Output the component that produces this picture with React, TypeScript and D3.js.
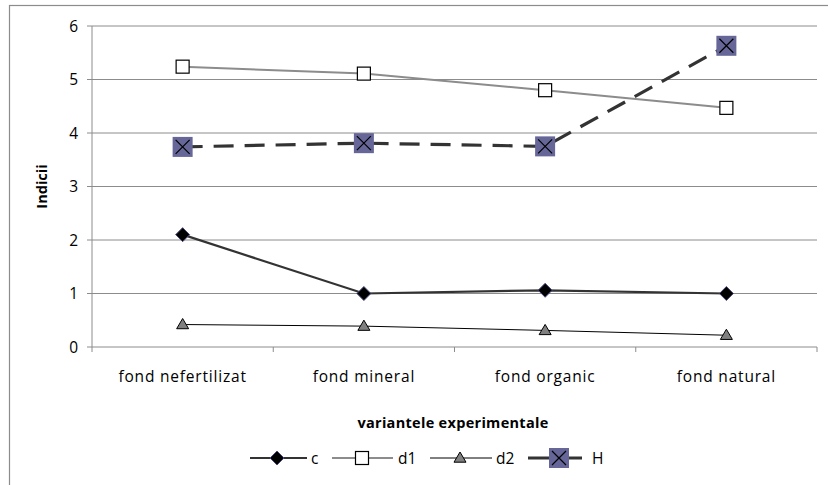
import React from "react";
import * as d3 from "d3";

const categories = ["fond nefertilizat", "fond mineral", "fond organic", "fond natural"];
const seriesC = [2.1, 1.0, 1.06, 1.0];
const seriesD1 = [5.24, 5.11, 4.8, 4.47];
const seriesD2 = [0.42, 0.39, 0.31, 0.22];
const seriesH = [3.74, 3.81, 3.75, 5.63];
const yTicks = [0, 1, 2, 3, 4, 5, 6];
const legendNames = ["c", "d1", "d2", "H"];

const W = 828;
const H = 485;
const left = 92;
const right = 817;
const top = 26;
const bottom = 347;
const font = "'Open Sans', Lato, sans-serif";

type Marker = "diamond" | "square" | "triangle" | "xbox";

function MarkerShape({ kind, x, y }: { kind: Marker; x: number; y: number }) {
  if (kind === "diamond") {
    const r = 7;
    return (
      <path
        d={`M${x},${y - r}L${x + r},${y}L${x},${y + r}L${x - r},${y}Z`}
        fill="#000"
        stroke="#4a4a80"
        strokeWidth={1}
      />
    );
  }
  if (kind === "square") {
    const s = 13;
    return (
      <rect x={x - s / 2} y={y - s / 2} width={s} height={s} fill="#fff" stroke="#000" strokeWidth={1.2} />
    );
  }
  if (kind === "triangle") {
    const r = 6;
    return (
      <path
        d={`M${x},${y - r}L${x + r},${y + r * 0.7}L${x - r},${y + r * 0.7}Z`}
        fill="#808080"
        stroke="#000"
        strokeWidth={1}
      />
    );
  }
  const s = 20;
  const k = 7;
  return (
    <g>
      <rect x={x - s / 2} y={y - s / 2} width={s} height={s} fill="#666699" />
      <path d={`M${x - k},${y - k}L${x + k},${y + k}M${x + k},${y - k}L${x - k},${y + k}`} stroke="#000" strokeWidth={1.2} />
    </g>
  );
}

export default function App() {
  const x = d3.scaleBand<string>().domain(categories).range([left, right]).padding(0);
  const y = d3.scaleLinear().domain([0, 6]).range([bottom, top]);
  const cx = (c: string) => (x(c) ?? 0) + x.bandwidth() / 2;

  const series: { name: string; values: number[]; stroke: string; width: number; dash?: string; marker: Marker }[] = [
    { name: legendNames[0], values: seriesC, stroke: "#333333", width: 2.2, marker: "diamond" },
    { name: legendNames[1], values: seriesD1, stroke: "#8c8c8c", width: 2, marker: "square" },
    { name: legendNames[2], values: seriesD2, stroke: "#000000", width: 1, marker: "triangle" },
    { name: legendNames[3], values: seriesH, stroke: "#333333", width: 3.2, dash: "20,11", marker: "xbox" },
  ];

  const line = d3
    .line<[number, number]>()
    .x((d) => d[0])
    .y((d) => d[1]);

  const boundaries = d3.range(categories.length + 1).map((i) => left + i * x.bandwidth());

  const legendItems = [
    { lx1: 250, lx2: 307, mx: 277, tx: 311 },
    { lx1: 332, lx2: 393, mx: 362, tx: 398 },
    { lx1: 430, lx2: 492, mx: 460, tx: 496 },
    { lx1: 528, lx2: 582, mx: 559, tx: 592 },
  ];
  const ly = 458;

  return (
    <svg width={W} height={H} style={{ position: "absolute", left: 0, top: 0 }} fontFamily={font}>
      <rect x={0} y={0} width={W} height={H} fill="#fff" />
      <rect x={9.5} y={5.5} width={W + 10} height={H + 10} fill="none" stroke="#8c8c8c" strokeWidth={1.2} />

      {yTicks.map((t) => (
        <g key={t}>
          <line x1={left - 5} x2={right} y1={y(t)} y2={y(t)} stroke="#8c8c8c" strokeWidth={1} />
          <text x={left - 14} y={y(t)} dy="0.36em" textAnchor="end" fontSize={15.5} fill="#000">
            {t}
          </text>
        </g>
      ))}
      <line x1={left} x2={left} y1={top} y2={bottom} stroke="#8c8c8c" strokeWidth={1} />
      {boundaries.map((b, i) => (
        <line key={i} x1={b} x2={b} y1={bottom} y2={bottom + 5} stroke="#8c8c8c" strokeWidth={1} />
      ))}

      {categories.map((c) => (
        <text key={c} x={cx(c)} y={382} textAnchor="middle" fontSize={15.5} letterSpacing={0.8} fill="#000">
          {c}
        </text>
      ))}

      <text
        transform={`translate(47,${(top + bottom) / 2}) rotate(-90)`}
        textAnchor="middle"
        fontSize={14.5}
        fontWeight="bold"
        fill="#000"
      >
        Indicii
      </text>
      <text x={453} y={428} textAnchor="middle" fontSize={14.5} fontWeight="bold" letterSpacing={0.3} fill="#000">
        variantele experimentale
      </text>

      {series.map((s) => {
        const pts: [number, number][] = s.values.map((v, i) => [cx(categories[i]), y(v)]);
        return (
          <g key={s.name}>
            <path d={line(pts) ?? ""} fill="none" stroke={s.stroke} strokeWidth={s.width} strokeDasharray={s.dash} />
            {pts.map((p, i) => (
              <MarkerShape key={i} kind={s.marker} x={p[0]} y={p[1]} />
            ))}
          </g>
        );
      })}

      {series.map((s, i) => {
        const L = legendItems[i];
        return (
          <g key={s.name}>
            <line x1={L.lx1} x2={L.lx2} y1={ly} y2={ly} stroke={s.stroke} strokeWidth={s.marker === "xbox" ? 3.2 : s.width} />
            <MarkerShape kind={s.marker} x={L.mx} y={ly} />
            <text x={L.tx} y={ly} dy="0.36em" fontSize={15.5} fill="#000">
              {s.name}
            </text>
          </g>
        );
      })}
    </svg>
  );
}
